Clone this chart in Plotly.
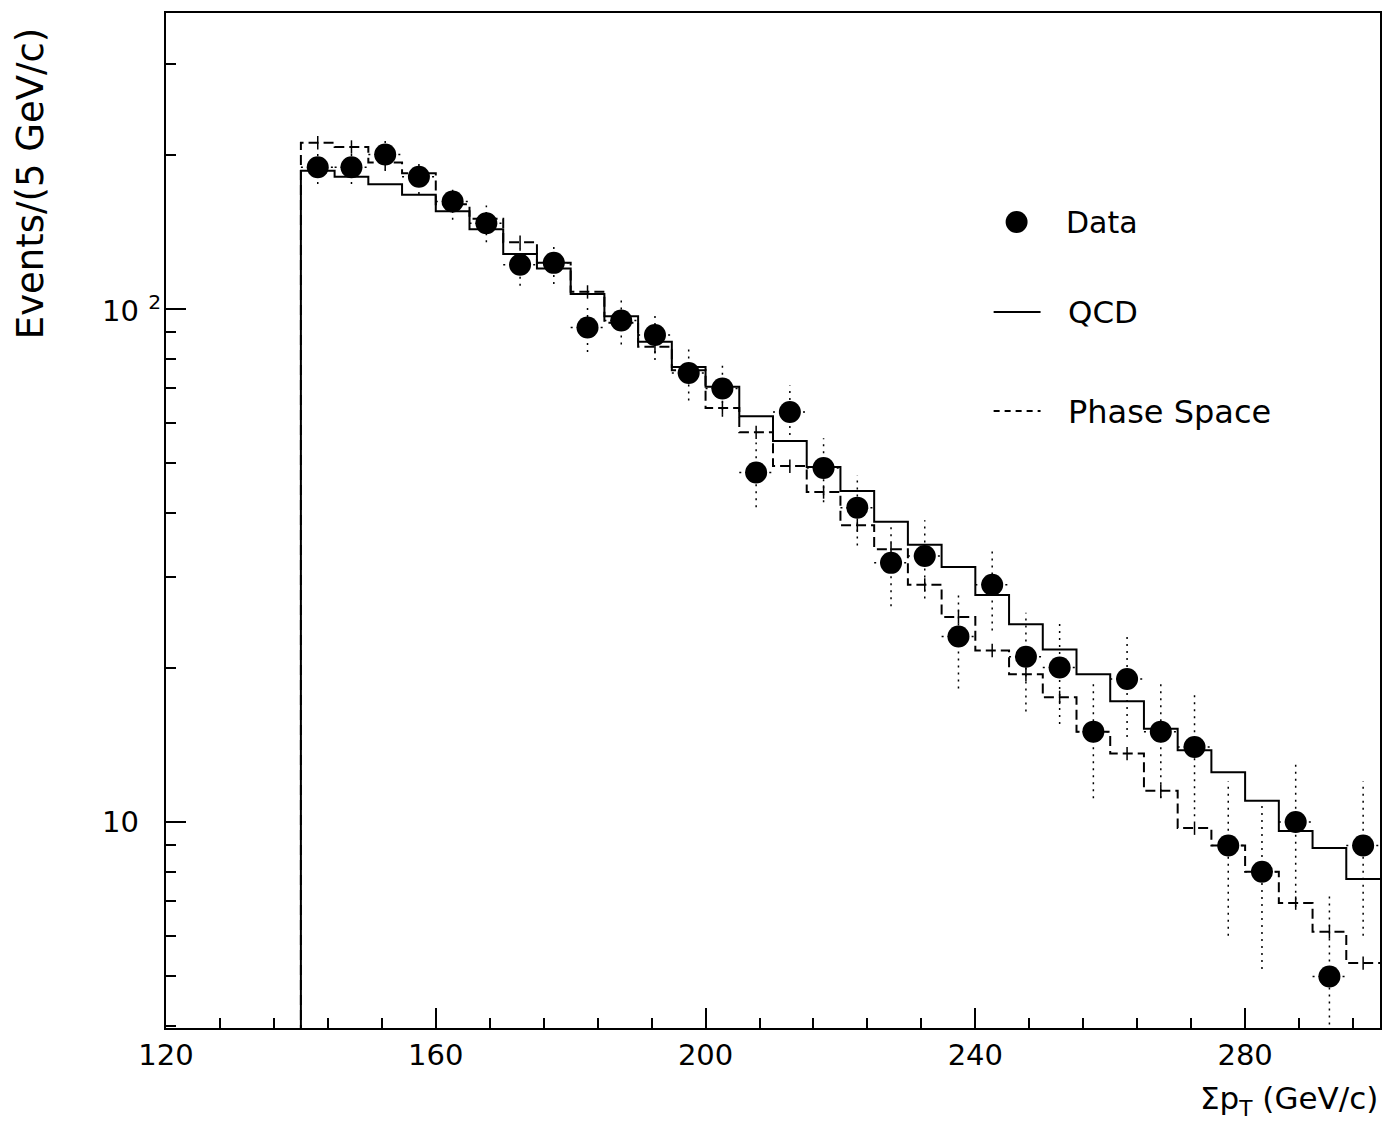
import math
import plotly.graph_objects as go

# ---------------- data ----------------
bin_low = list(range(140, 300, 5))          # 5 GeV/c bins, 140..300
data_counts = [189, 189, 200, 181, 162, 147, 122, 123, 92, 95, 89, 75, 70, 48, 63, 49,
               41, 32, 33, 23, 29, 21, 20, 15, 19, 15, 14, 9, 8, 10, 5, 9]
qcd = [186, 181, 175, 167, 155, 143, 128, 120, 107, 96.8, 86.3, 77.1, 70.5, 61.8, 55.3, 49.2,
       44.2, 38.5, 34.7, 31.4, 27.7, 24.3, 21.7, 19.4, 17.2, 15.2, 13.8, 12.5, 11.0, 9.6, 8.9, 7.74]
phase_space = [211, 207, 193, 184, 160, 150, 135, 123, 108, 94, 84.4, 76, 64.1, 57.5, 49.4, 44.0,
               37.9, 34.0, 29.0, 25.1, 21.6, 19.4, 17.5, 15.0, 13.6, 11.5, 9.73, 9.0, 8.0, 6.95, 6.11, 5.31]
x_ticks = [120, 160, 200, 240, 280]
y_ticks = [10, 100]
y_tick_text = ["10", "10 <sup>2</sup>"]

BW = 5
X_MAX = 300
centers = [b + BW / 2 for b in bin_low]

FONT = "DejaVu Sans"
W, H = 1386, 1126
L, R, T, B = 166, 4, 13, 98
PW, PH = W - L - R, H - T - B


def px(xp):
    return (xp - L) / PW


def py(yp):
    return (H - B - yp) / PH


def step(vals):
    xs = [bin_low[0]] + bin_low + [X_MAX]
    ys = [1] + list(vals) + [vals[-1]]
    return xs, ys


fig = go.Figure()

# QCD histogram (solid)
qx, qy = step(qcd)
fig.add_trace(go.Scatter(x=qx, y=qy, mode="lines", line=dict(color="black", width=2, shape="hv"),
                         showlegend=False, hoverinfo="skip"))

# Phase space histogram (dashed) with small MC error ticks
sx, sy = step(phase_space)
fig.add_trace(go.Scatter(x=sx, y=sy, mode="lines",
                         line=dict(color="black", width=2, shape="hv", dash="10px,5px"),
                         showlegend=False, hoverinfo="skip"))
fig.add_trace(go.Scatter(x=centers, y=phase_space, mode="markers",
                         marker=dict(size=1, color="rgba(0,0,0,0)"),
                         error_y=dict(type="percent", value=3, color="black", thickness=1.5, width=0),
                         showlegend=False, hoverinfo="skip"))

# Data error bars (dotted)
ex, ey, hx, hy = [], [], [], []
for c, n in zip(centers, data_counts):
    e = math.sqrt(n)
    ex += [c, c, None]
    ey += [max(n - e, 1), n + e, None]
    hx += [c - BW / 2, c + BW / 2, None]
    hy += [n, n, None]
fig.add_trace(go.Scatter(x=ex, y=ey, mode="lines", line=dict(color="black", width=1.5, dash="2px,5px"),
                         showlegend=False, hoverinfo="skip"))
fig.add_trace(go.Scatter(x=hx, y=hy, mode="lines", line=dict(color="black", width=1.5, dash="2px,4px"),
                         showlegend=False, hoverinfo="skip"))

# Data points
fig.add_trace(go.Scatter(x=centers, y=data_counts, mode="markers",
                         marker=dict(size=22, color="black", line=dict(width=0)),
                         showlegend=False))

# ---------------- legend (manual) ----------------
shapes = [
    dict(type="circle", xref="paper", yref="paper",
         x0=px(1007), x1=px(1029), y0=py(233), y1=py(211),
         fillcolor="black", line=dict(color="black", width=0)),
    dict(type="line", xref="paper", yref="paper", x0=px(995), x1=px(1042), y0=py(312), y1=py(312),
         line=dict(color="black", width=2)),
    dict(type="line", xref="paper", yref="paper", x0=px(995), x1=px(1042), y0=py(411), y1=py(411),
         line=dict(color="black", width=2, dash="6px,5px")),
]
annotations = [
    dict(text="Data", xref="paper", yref="paper", x=px(1065), y=py(222), xanchor="left", yanchor="middle",
         showarrow=False, font=dict(family=FONT, size=30, color="black")),
    dict(text="QCD", xref="paper", yref="paper", x=px(1067), y=py(312), xanchor="left", yanchor="middle",
         showarrow=False, font=dict(family=FONT, size=31, color="black")),
    dict(text="Phase Space", xref="paper", yref="paper", x=px(1067), y=py(412), xanchor="left",
         yanchor="middle", showarrow=False, font=dict(family=FONT, size=32, color="black")),
    # axis titles
    dict(text="Events/(5 GeV/c)", xref="paper", yref="paper", x=px(31), y=py(184), textangle=-90,
         xanchor="center", yanchor="middle", showarrow=False, font=dict(family=FONT, size=37, color="black")),
    dict(text="Σp<sub>T</sub> (GeV/c)", xref="paper", yref="paper", x=px(1382), y=py(1100),
         xanchor="right", yanchor="middle", showarrow=False, font=dict(family=FONT, size=31, color="black")),
]
for v, t in zip(y_ticks, y_tick_text):
    annotations.append(dict(text=t, xref="paper", yref="y", x=px(100), y=math.log10(v),
                            xanchor="left", yanchor="middle", showarrow=False,
                            font=dict(family=FONT, size=29, color="black")))

minor_y = [v * m for m in (1, 10, 100) for v in range(2, 10) if 4 <= v * m <= 380 and v * m not in (10, 100)]
minor_x = [v for v in range(128, 300, 8) if v not in x_ticks]

fig.update_layout(
    width=W, height=H, autosize=False,
    margin=dict(l=L, r=R, t=T, b=B, pad=0),
    paper_bgcolor="white", plot_bgcolor="white",
    font=dict(family=FONT, color="black"),
    shapes=shapes, annotations=annotations,
    xaxis=dict(range=[120, X_MAX], showgrid=False, zeroline=False,
               showline=True, linecolor="black", linewidth=2, mirror=True,
               ticks="inside", tickvals=x_ticks, ticklen=20, tickwidth=2, tickcolor="black",
               tickfont=dict(family=FONT, size=29, color="black"),
               minor=dict(tickvals=minor_x, ticks="inside", ticklen=10, tickwidth=1.5,
                          tickcolor="black", showgrid=False)),
    yaxis=dict(type="log", range=[0.5984, 2.577], showgrid=False, zeroline=False,
               showline=True, linecolor="black", linewidth=2, mirror=True,
               ticks="inside", tickvals=y_ticks, ticklen=20, tickwidth=2, tickcolor="black",
               showticklabels=False,
               minor=dict(tickvals=minor_y, ticks="inside", ticklen=10, tickwidth=1.5,
                          tickcolor="black", showgrid=False)),
)

fig.write_html("out.html")
